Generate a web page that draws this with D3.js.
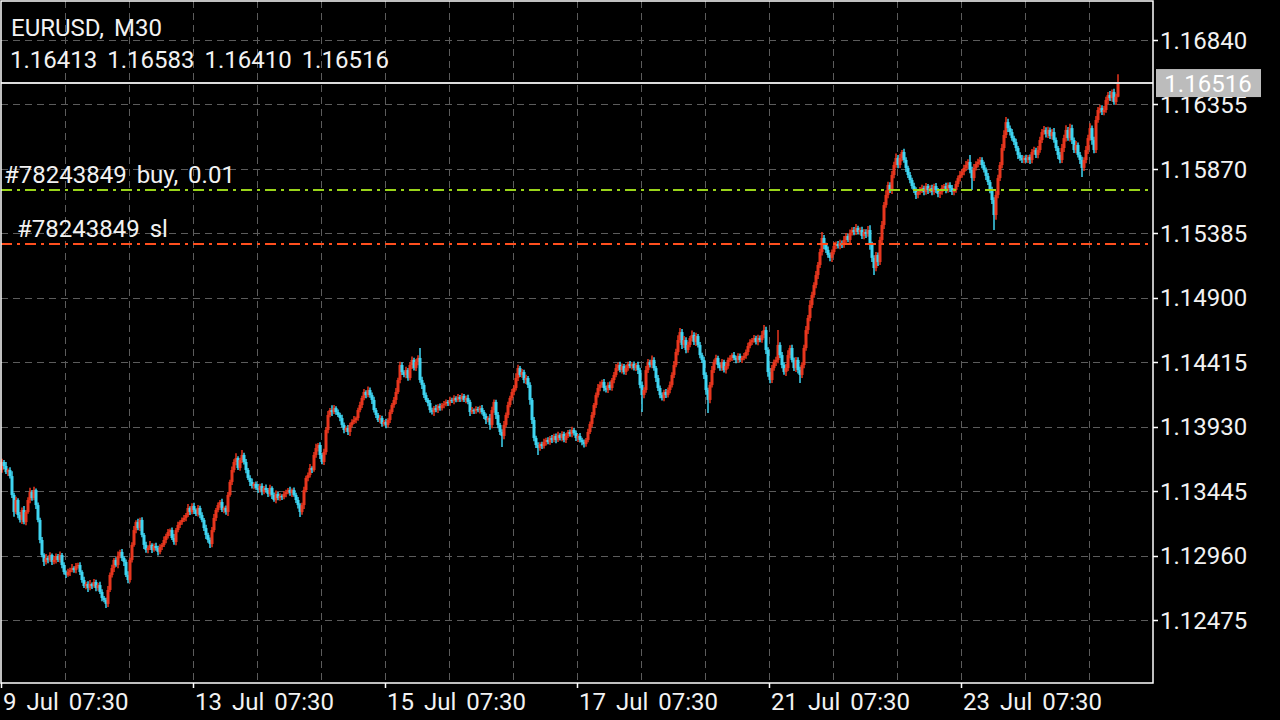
<!DOCTYPE html>
<html><head><meta charset="utf-8">
<script src="https://cdn.jsdelivr.net/npm/d3@7/dist/d3.min.js"></script>
<style>html,body{margin:0;padding:0;background:#000;overflow:hidden}svg{display:block}text{font-family:Roboto,"Noto Sans",sans-serif;word-spacing:4px}</style>
</head><body><svg id="c" width="1280" height="720"></svg>
<script>
// ---- data (prices stored as points above 1.10000, i.e. price = 1.1 + v/100000) ----
const symbol = "EURUSD, M30";
const firstOpen = 3604;
const closePts = [
3664,3634,3588,3604,3558,3416,3288,3378,3265,3228,
3303,3212,3288,3378,3438,3393,3453,3340,3228,3077,
2964,2912,2942,2927,2964,2912,2927,2957,2927,2964,
2889,2836,2814,2836,2851,2866,2851,2881,2889,2836,
2776,2731,2746,2716,2746,2731,2761,2716,2738,2686,
2641,2626,2596,2701,2814,2866,2927,2889,2957,2987,
2942,2912,2814,2776,2927,3040,3152,3212,3167,3228,
3115,3040,3002,3017,3040,3002,3032,3017,2987,3025,
3040,3077,3107,3137,3152,3092,3062,3152,3190,3212,
3228,3243,3265,3318,3288,3333,3303,3273,3318,3265,
3228,3167,3115,3077,3047,3152,3243,3303,3340,3363,
3303,3318,3288,3416,3514,3604,3664,3694,3619,3679,
3717,3664,3604,3544,3514,3484,3499,3469,3453,3484,
3438,3469,3453,3423,3469,3416,3378,3423,3393,3408,
3401,3423,3438,3453,3431,3453,3416,3378,3340,3288,
3340,3453,3544,3566,3619,3604,3717,3769,3792,3717,
3664,3739,3905,4018,4055,4040,4070,4040,4018,3995,
3943,3905,3920,3890,3943,3965,3980,3995,4055,4093,
4146,4191,4168,4206,4168,4131,4055,4018,3980,3995,
3950,3965,3943,3980,4040,4093,4131,4191,4281,4394,
4341,4319,4356,4296,4394,4432,4371,4417,4447,4281,
4244,4168,4131,4108,4055,4040,4070,4055,4085,4070,
4093,4100,4116,4108,4131,4123,4146,4131,4153,4138,
4161,4131,4146,4116,4040,4055,4048,4063,4055,4070,
4040,4010,3980,3995,3943,4055,4116,4018,3943,3890,
3860,3943,4018,4093,4146,4191,4221,4296,4371,4319,
4341,4281,4296,4244,4131,3980,3845,3792,3769,3799,
3784,3814,3830,3814,3845,3830,3860,3830,3867,3845,
3875,3830,3860,3890,3875,3905,3882,3845,3860,3830,
3814,3799,3830,3890,3950,4018,4093,4168,4221,4244,
4266,4221,4206,4244,4221,4281,4319,4371,4394,4356,
4386,4341,4371,4401,4386,4401,4371,4394,4356,4244,
4168,4206,4356,4417,4394,4432,4371,4296,4221,4168,
4146,4191,4168,4206,4244,4319,4394,4492,4582,4642,
4545,4582,4507,4545,4597,4620,4567,4612,4545,4469,
4432,4319,4206,4131,4244,4356,4417,4447,4394,4371,
4417,4356,4386,4432,4447,4469,4447,4432,4462,4432,
4447,4462,4492,4537,4567,4582,4597,4567,4597,4582,
4620,4657,4507,4341,4281,4371,4417,4432,4545,4469,
4394,4341,4371,4469,4522,4432,4371,4432,4356,4319,
4394,4522,4657,4748,4846,4921,4996,5071,5147,5244,
5350,5297,5260,5222,5200,5244,5290,5305,5290,5312,
5297,5335,5365,5335,5388,5410,5395,5425,5395,5410,
5365,5395,5380,5410,5297,5200,5124,5222,5169,5335,
5448,5598,5674,5749,5711,5824,5899,5952,5899,5952,
5997,5937,5877,5824,5786,5741,5711,5674,5696,5711,
5726,5696,5741,5711,5726,5696,5741,5711,5681,5696,
5726,5741,5711,5749,5726,5696,5711,5756,5801,5824,
5847,5877,5899,5922,5862,5801,5877,5907,5922,5937,
5899,5862,5817,5771,5711,5636,5523,5674,5801,5899,
6027,6125,6222,6177,6147,6102,6072,6027,5975,5952,
5937,5952,5937,5959,5937,5997,6012,5975,6012,6087,
6147,6163,6132,6163,6117,6147,6087,6027,5975,5937,
6027,6102,6163,6102,6177,6087,6012,6050,5975,5937,
5877,5937,6012,6102,6177,6087,6012,6238,6313,6328,
6298,6313,6388,6426,6403,6448,6373,6413,6516];
const wickUpPts = [
25,16,30,12,20,36,16,25,14,23, 18,30,14,20,33,16,25,12,20,16, 23,14,30,16,20,12,25,18,14,27, 16,20,12,25,18,30,14,23,16,20,
14,25,16,20,30,12,23,16,18,25, 20,14,16,30,18,25,14,20,33,16, 23,12,18,27,16,20,30,14,25,16, 20,14,23,16,30,12,18,25,16,20,
14,27,18,23,12,20,30,16,25,14, 18,23,16,30,14,20,25,12,23,16, 20,14,25,16,18,23,30,14,20,16, 25,12,18,23,16,27,20,36,14,18,
37,16,23,14,20,25,12,18,30,16, 20,14,25,16,23,12,18,27,16,20, 14,23,18,16,25,12,20,16,23,14, 18,25,16,20,30,14,23,33,16,20,
14,25,18,30,16,36,23,14,20,16, 25,18,14,23,16,20,30,12,18,25, 16,23,14,27,18,20,25,16,14,23, 18,16,25,14,20,16,23,30,18,25,
20,14,25,16,18,27,16,23,20,75, 25,16,20,14,23,18,16,25,14,20, 16,23,18,14,25,16,20,12,23,16, 20,14,18,25,16,23,12,20,16,18,
23,16,20,14,30,25,18,16,23,14, 20,30,18,25,16,23,20,36,25,16, 23,18,25,16,20,14,23,16,20,14, 18,25,16,20,14,23,16,18,25,14,
20,16,23,14,18,25,16,20,14,23, 16,20,14,25,18,23,16,20,30,25, 18,23,16,20,25,16,23,30,18,25, 20,16,25,18,23,14,20,16,25,18,
25,20,30,23,16,33,20,16,23,18, 20,16,23,18,25,20,30,25,36,30, 23,30,20,25,16,33,20,25,16,23, 18,25,20,16,23,30,18,25,16,20,
23,16,25,18,20,14,23,16,20,18, 16,23,18,25,20,16,23,18,25,20, 30,38,25,20,30,23,18,25,112,20, 23,18,30,36,20,25,18,23,20,25,
20,25,30,23,36,25,20,30,23,25, 45,23,18,25,16,20,30,18,23,25, 20,30,23,16,25,20,23,30,18,20, 25,23,20,30,36,25,20,23,18,25,
30,23,36,25,20,30,25,33,23,30, 15,25,20,16,23,18,25,20,16,23, 25,18,23,16,20,25,18,23,16,20, 23,16,25,18,20,23,16,25,20,30,
23,25,30,20,53,25,30,20,25,23, 20,25,18,23,16,25,20,30,25,23, 30,36,38,25,20,23,18,25,16,20, 23,18,25,16,20,23,25,18,30,25,
23,30,20,25,18,23,30,20,16,23, 30,25,36,23,33,25,20,30,18,23, 25,20,30,25,36,20,25,30,23,25, 20,30,25,23,30,20,25,23,67];
const wickDnPts = [
20,25,14,30,18,23,36,16,25,20, 30,16,23,14,25,20,16,30,18,25, 16,30,20,25,14,23,18,27,16,20, 25,18,23,14,30,16,20,25,18,23,
20,16,25,30,18,23,14,25,20,16, 25,18,30,23,16,20,30,14,25,18, 23,30,16,25,18,20,14,25,16,23, 18,30,20,25,16,23,14,20,27,18,
23,16,25,18,30,14,20,25,16,23, 20,16,25,14,23,18,30,16,20,25, 18,23,30,20,30,25,16,23,18,20, 16,25,20,30,14,23,18,25,16,20,
23,18,25,16,30,20,25,14,23,18, 25,16,20,23,18,30,14,25,16,20, 23,18,25,16,20,30,14,23,25,38, 20,30,16,25,18,23,14,20,25,30,
16,23,20,25,18,30,14,20,16,25, 20,25,16,23,30,18,14,25,20,16, 23,18,25,16,20,30,18,23,14,25, 20,16,25,18,23,14,20,30,16,25,
23,18,25,20,16,30,18,23,25,20, 30,23,16,25,20,18,30,16,23,20, 18,25,16,23,20,14,25,18,16,23, 20,16,25,18,30,14,23,20,16,25,
18,23,30,16,36,25,20,30,25,23, 83,25,18,23,16,20,25,18,23,16, 20,25,30,23,36,30,25,23,52,20, 23,18,25,16,20,23,18,25,16,20,
25,18,23,16,20,25,18,23,30,20, 23,25,20,18,16,25,20,23,18,25, 20,25,18,23,16,20,25,18,23,16, 25,18,23,20,16,25,18,23,30,25,
128,25,20,23,18,25,20,30,23,25, 20,25,23,18,25,20,23,16,25,20, 30,23,25,20,18,25,23,30,20,25, 23,30,36,98,25,20,23,18,25,20,
23,18,25,20,16,23,18,25,20,16, 23,18,20,25,16,23,20,18,25,16, 20,25,30,36,25,23,20,30,25,23, 25,20,30,23,25,20,23,30,25,60,
23,25,20,30,25,23,20,25,30,23, 25,30,23,20,25,30,18,23,20,25, 23,20,25,18,23,20,25,23,18,20, 23,25,30,20,36,30,53,25,30,23,
25,30,20,25,23,30,25,20,25,23, 25,20,30,23,25,20,23,30,25,20, 23,25,20,30,23,25,20,23,25,30, 20,23,25,20,30,23,25,20,23,25,
20,25,23,30,25,90,23,20,25,23, 25,20,30,23,25,30,113,36,25,23, 25,20,23,30,25,20,23,25,30,20, 23,25,20,23,30,25,20,23,25,20,
23,20,25,30,23,25,20,23,30,25, 23,30,25,20,25,30,23,25,20,30, 68,23,25,30,20,36,25,23,20,25, 23,25,20,30,23,25,20,23,3];
const priceTicks = [1.12475,1.12960,1.13445,1.13930,1.14415,1.14900,1.15385,1.15870,1.16355,1.16840];
const timeLabels = ["9 Jul 07:30","13 Jul 07:30","15 Jul 07:30","17 Jul 07:30","21 Jul 07:30","23 Jul 07:30"];
const timeLabelBars = [0,96,192,288,384,480];
const gridEveryBars = 32;
const orderTicket = "#78243849";
const buyPrice = 1.15711, buyLots = "0.01";
const slPrice = 1.15305;

// ---- build candles ----
const toPrice = v => 1.1 + v/100000;
const candles = closePts.map((c,i) => {
  const o = i === 0 ? firstOpen : closePts[i-1];
  const hi = Math.max(o,c) + wickUpPts[i];
  const lo = Math.min(o,c) - wickDnPts[i];
  return {i, o:toPrice(o), h:toPrice(hi), l:toPrice(lo), c:toPrice(c)};
});
const last = candles[candles.length-1];

// ---- layout ----
const L = 1, R = 1153, T = 1, B = 683;
const svg = d3.select("#c");
svg.append("rect").attr("width",1280).attr("height",720).attr("fill","#000");
const x = d3.scaleLinear().domain([0,576]).range([L, R]);
const y = d3.scaleLinear().domain([1.12475,1.16840]).range([620,40]);

const gridCol = "#5c5c5c";
const vBars = d3.range(gridEveryBars, 576, gridEveryBars);
svg.append("g").selectAll("line").data(vBars).join("line")
  .attr("x1",d=>Math.round(x(d))+0.5).attr("x2",d=>Math.round(x(d))+0.5)
  .attr("y1",T).attr("y2",B).attr("stroke",gridCol).attr("stroke-width",1).attr("stroke-dasharray","7,5");
svg.append("g").selectAll("line").data(priceTicks).join("line")
  .attr("x1",L).attr("x2",R).attr("y1",d=>Math.round(y(d))+0.5).attr("y2",d=>Math.round(y(d))+0.5)
  .attr("stroke",gridCol).attr("stroke-width",1).attr("stroke-dasharray","7,5");

// candles
const bull = "#e8361e", bear = "#3fd5f2";
const cg = svg.append("g");
candles.forEach(d => {
  const col = d.c>=d.o?bull:bear;
  cg.append("line").attr("x1",x(d.i)+1).attr("x2",x(d.i)+1)
    .attr("y1",y(d.h)).attr("y2",y(d.l)).attr("stroke",col).attr("stroke-width",1.5);
  cg.append("rect").attr("x",x(d.i)-0.5).attr("width",3)
    .attr("y",y(Math.max(d.o,d.c)))
    .attr("height",Math.max(1,Math.abs(y(d.o)-y(d.c))))
    .attr("fill",col);
});

// order lines
svg.append("line").attr("x1",L).attr("x2",R).attr("y1",y(buyPrice)).attr("y2",y(buyPrice))
  .attr("stroke","#9ad51a").attr("stroke-width",2).attr("stroke-dasharray","11,5,3,5");
svg.append("line").attr("x1",L).attr("x2",R).attr("y1",y(slPrice)).attr("y2",y(slPrice))
  .attr("stroke","#ff4f1e").attr("stroke-width",2).attr("stroke-dasharray","11,5,3,5");
svg.append("text").attr("x",4).attr("y",y(buyPrice)-7).attr("fill","#f2f2f2").attr("font-size",24)
  .text(`${orderTicket} buy, ${buyLots}`);
svg.append("text").attr("x",17).attr("y",y(slPrice)-7).attr("fill","#f2f2f2").attr("font-size",24)
  .text(`${orderTicket} sl`);

// current price line
svg.append("line").attr("x1",L).attr("x2",R).attr("y1",y(last.c)).attr("y2",y(last.c))
  .attr("stroke","#dcdcdc").attr("stroke-width",2);

// frame
svg.append("rect").attr("x",L).attr("y",T).attr("width",R-L).attr("height",B-T)
  .attr("fill","none").attr("stroke","#ffffff").attr("stroke-width",1.5);

// y axis labels + ticks
svg.append("g").selectAll("line").data(priceTicks).join("line")
  .attr("x1",R).attr("x2",R+5).attr("y1",d=>Math.round(y(d))+0.5).attr("y2",d=>Math.round(y(d))+0.5)
  .attr("stroke","#fff").attr("stroke-width",1.5);
svg.append("g").selectAll("text").data(priceTicks).join("text")
  .attr("x",R+7).attr("y",d=>y(d)).attr("dy","0.36em").attr("fill","#f2f2f2").attr("font-size",24)
  .text(d=>d.toFixed(5));

// current price box
const py = y(last.c);
svg.append("rect").attr("x",1156).attr("y",py-14).attr("width",105).attr("height",28).attr("fill","#bcbcbc");
svg.append("text").attr("x",1208).attr("y",py).attr("dy","0.36em").attr("text-anchor","middle")
  .attr("fill","#ffffff").attr("font-size",24).text(last.c.toFixed(5));

// x axis ticks and labels
svg.append("g").selectAll("line").data(timeLabelBars).join("line")
  .attr("x1",d=>Math.round(x(d))+0.5).attr("x2",d=>Math.round(x(d))+0.5).attr("y1",B).attr("y2",B+5)
  .attr("stroke","#fff").attr("stroke-width",1.5);
svg.append("g").selectAll("text").data(timeLabels).join("text")
  .attr("x",(d,i)=>x(timeLabelBars[i])+2).attr("y",710).attr("fill","#f2f2f2").attr("font-size",24)
  .text(d=>d);

// header
svg.append("text").attr("x",11).attr("y",36).attr("fill","#f2f2f2").attr("font-size",24).text(symbol);
svg.append("text").attr("x",10).attr("y",68).attr("fill","#f2f2f2").attr("font-size",24)
  .text([last.o,last.h,last.l,last.c].map(v=>v.toFixed(5)).join(" "));
</script></body></html>
